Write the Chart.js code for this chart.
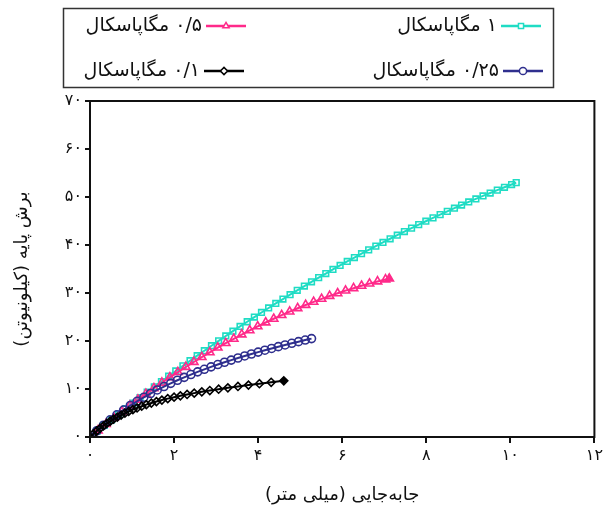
<!DOCTYPE html>
<html>
<head>
<meta charset="utf-8">
<script src="https://cdn.jsdelivr.net/npm/chart.js@4"></script>
<style>
  html, body { margin: 0; padding: 0; background: #fff; }
</style>
</head>
<body>
<canvas id="myChart" width="606" height="508"></canvas>
<script>
// series labels (legend order)
const seriesLabels = ['۱ مگاپاسکال', '۰/۵ مگاپاسکال', '۰/۲۵ مگاپاسکال', '۰/۱ مگاپاسکال'];

// 1 MPa
const x1 = [0, 0.17, 0.34, 0.51, 0.68, 0.85, 1.02, 1.19, 1.36, 1.53, 1.70, 1.87, 2.04, 2.21, 2.38, 2.55, 2.72, 2.89, 3.06, 3.23,
  3.40, 3.57, 3.74, 3.91, 4.08, 4.25, 4.42, 4.59, 4.76, 4.93, 5.10, 5.27, 5.44, 5.61, 5.78, 5.95, 6.12, 6.29, 6.46, 6.63,
  6.80, 6.97, 7.14, 7.31, 7.48, 7.65, 7.82, 7.99, 8.16, 8.33, 8.50, 8.67, 8.84, 9.01, 9.18, 9.35, 9.52, 9.69, 9.86, 10.03, 10.14];
const y1 = [0, 1.20, 2.40, 3.58, 4.76, 5.92, 7.07, 8.21, 9.34, 10.46, 11.56, 12.66, 13.75, 14.82, 15.89, 16.94, 17.98, 19.02, 20.04, 21.05,
  22.05, 23.04, 24.01, 24.98, 25.94, 26.88, 27.82, 28.74, 29.65, 30.56, 31.45, 32.33, 33.20, 34.06, 34.91, 35.74, 36.57, 37.39, 38.19, 38.99,
  39.77, 40.54, 41.30, 42.05, 42.80, 43.52, 44.24, 44.95, 45.65, 46.33, 47.01, 47.67, 48.33, 48.97, 49.60, 50.22, 50.83, 51.43, 52.02, 52.60, 53.0];

// 0.5 MPa
const x2 = [0, 0.19, 0.38, 0.57, 0.76, 0.95, 1.14, 1.33, 1.52, 1.71, 1.90, 2.09, 2.28, 2.47, 2.66, 2.85, 3.04, 3.23, 3.42, 3.61,
  3.80, 3.99, 4.18, 4.37, 4.56, 4.75, 4.94, 5.13, 5.32, 5.51, 5.70, 5.89, 6.08, 6.27, 6.46, 6.65, 6.84, 7.03, 7.12];
const y2 = [0, 1.36, 2.69, 4.00, 5.28, 6.54, 7.77, 8.97, 10.15, 11.30, 12.42, 13.52, 14.59, 15.63, 16.65, 17.64, 18.61, 19.55, 20.46, 21.35,
  22.21, 23.04, 23.85, 24.63, 25.39, 26.12, 26.82, 27.50, 28.15, 28.77, 29.37, 29.94, 30.49, 31.00, 31.50, 31.96, 32.40, 32.82, 33.0];

// 0.25 MPa
const x3 = [0, 0.16, 0.32, 0.48, 0.64, 0.80, 0.96, 1.12, 1.28, 1.44, 1.60, 1.76, 1.92, 2.08, 2.24, 2.40, 2.56, 2.72, 2.88, 3.04,
  3.20, 3.36, 3.52, 3.68, 3.84, 4.00, 4.16, 4.32, 4.48, 4.64, 4.80, 4.96, 5.12, 5.27];
const y3 = [0, 1.27, 2.46, 3.58, 4.63, 5.62, 6.56, 7.44, 8.27, 9.06, 9.80, 10.51, 11.18, 11.82, 12.43, 13.01, 13.57, 14.10, 14.61, 15.10,
  15.57, 16.02, 16.46, 16.88, 17.29, 17.69, 18.08, 18.45, 18.82, 19.18, 19.52, 19.86, 20.20, 20.50];

// 0.1 MPa
const x4 = [0, 0.08, 0.16, 0.24, 0.32, 0.40, 0.48, 0.56, 0.65, 0.74, 0.83, 0.92, 1.02, 1.12, 1.23, 1.34, 1.46, 1.58, 1.71, 1.85,
  2.00, 2.15, 2.31, 2.48, 2.66, 2.85, 3.06, 3.28, 3.52, 3.77, 4.03, 4.31, 4.61];
const y4 = [0, 0.65, 1.25, 1.81, 2.33, 2.82, 3.28, 3.71, 4.15, 4.57, 4.96, 5.32, 5.70, 6.05, 6.41, 6.74, 7.07, 7.38, 7.69, 7.99,
  8.30, 8.58, 8.86, 9.14, 9.41, 9.68, 9.96, 10.24, 10.53, 10.81, 11.10, 11.40, 11.71];

const xTicks = [0, 2, 4, 6, 8, 10, 12];
const yTicks = [0, 10, 20, 30, 40, 50, 60, 70];

const FONT = '"DejaVu Sans", sans-serif';
const faDigits = '۰۱۲۳۴۵۶۷۸۹';
function toFa(n) {
    return String(n).replace(/\d/g, d => faDigits[d]);
}
function pts(xs, ys) {
    return xs.map((x, i) => ({x: x, y: ys[i]}));
}
function lastFilled(n, color) {
    let a = new Array(n).fill('rgba(0,0,0,0)');
    a[n - 1] = color;
    return a;
}

const colors = ['#1fdcc4', '#ff2a8a', '#2f2f8e', '#000000'];
const styles = ['rect', 'triangle', 'circle', 'rectRot'];
const radii = [4, 4.8, 4, 4];

let series = [pts(x1, y1), pts(x2, y2), pts(x3, y3), pts(x4, y4)];

let datasets = series.map((d, i) => ({
    label: seriesLabels[i],
    data: d,
    borderColor: colors[i],
    backgroundColor: colors[i],
    borderWidth: 2,
    pointStyle: styles[i],
    pointRadius: radii[i],
    pointBorderWidth: 1.6,
    pointBorderColor: colors[i],
    pointBackgroundColor: (i === 1 || i === 3) ? lastFilled(d.length, colors[i]) : 'rgba(0,0,0,0)',
    fill: false,
    tension: 0,
    order: 4 - i
}));

// legend slots: [lineStartX, rowY]
const legendSlots = [[501, 26], [206, 26], [503, 71], [204, 71]];

const frameAndLegend = {
    id: 'frameAndLegend',
    afterDraw(chart) {
        const {ctx, chartArea: a} = chart;
        ctx.save();
        ctx.strokeStyle = '#111';
        ctx.lineWidth = 2;
        ctx.strokeRect(a.left, a.top, a.right - a.left, a.bottom - a.top);

        ctx.lineWidth = 1.5;
        ctx.strokeStyle = '#333';
        ctx.strokeRect(63.5, 8.5, 490, 79);

        chart.data.datasets.forEach((ds, i) => {
            const [lx, ly] = legendSlots[i];
            ctx.strokeStyle = ds.borderColor;
            ctx.lineWidth = 2.5;
            ctx.beginPath();
            ctx.moveTo(lx, ly);
            ctx.lineTo(lx + 40, ly);
            ctx.stroke();
            ctx.fillStyle = '#fff';
            ctx.lineWidth = 1.5;
            Chart.helpers.drawPoint(ctx, {pointStyle: ds.pointStyle, radius: 3.6, borderWidth: 1.5, rotation: 0}, lx + 20, ly);
            ctx.fillStyle = '#111';
            ctx.font = '19px ' + FONT;
            ctx.direction = 'rtl';
            ctx.textAlign = 'right';
            ctx.textBaseline = 'middle';
            ctx.fillText(ds.label, lx - 4, ly);
        });
        ctx.restore();
    }
};

let ctx = document.getElementById('myChart').getContext('2d');

let myChart = new Chart(ctx, {
    type: 'line',
    data: { datasets: datasets },
    options: {
        responsive: false,
        animation: false,
        layout: { padding: { top: 101, right: 9, left: 8, bottom: 0 } },
        plugins: { legend: { display: false }, tooltip: { enabled: false } },
        scales: {
            x: {
                type: 'linear',
                min: 0,
                max: 12,
                afterBuildTicks: s => { s.ticks = xTicks.map(v => ({value: v})); },
                afterFit: s => { s.height = 71; },
                grid: { display: true, drawOnChartArea: false, drawTicks: true, tickLength: 6, color: '#111', lineWidth: 2 },
                border: { display: true, color: '#111', width: 2 },
                ticks: { color: '#111', font: { family: FONT, size: 16 }, padding: 3, maxRotation: 0,
                    callback: v => toFa(v) },
                title: { display: true, text: 'جابه‌جایی (میلی متر)', color: '#111',
                    font: { family: FONT, size: 18 }, padding: { top: 4, bottom: 2 } }
            },
            y: {
                min: 0,
                max: 70,
                afterBuildTicks: s => { s.ticks = yTicks.map(v => ({value: v})); },
                afterFit: s => { s.width = 82; },
                grid: { display: true, drawOnChartArea: false, drawTicks: true, tickLength: 5, color: '#111', lineWidth: 2 },
                border: { display: true, color: '#111', width: 2 },
                ticks: { color: '#111', font: { family: FONT, size: 16 }, padding: 3,
                    callback: v => toFa(v) },
                title: { display: true, text: 'برش پایه (کیلونیوتن)', color: '#111',
                    font: { family: FONT, size: 18 }, padding: { top: 4, bottom: 4 } }
            }
        }
    },
    plugins: [frameAndLegend]
});
</script>
</body>
</html>
